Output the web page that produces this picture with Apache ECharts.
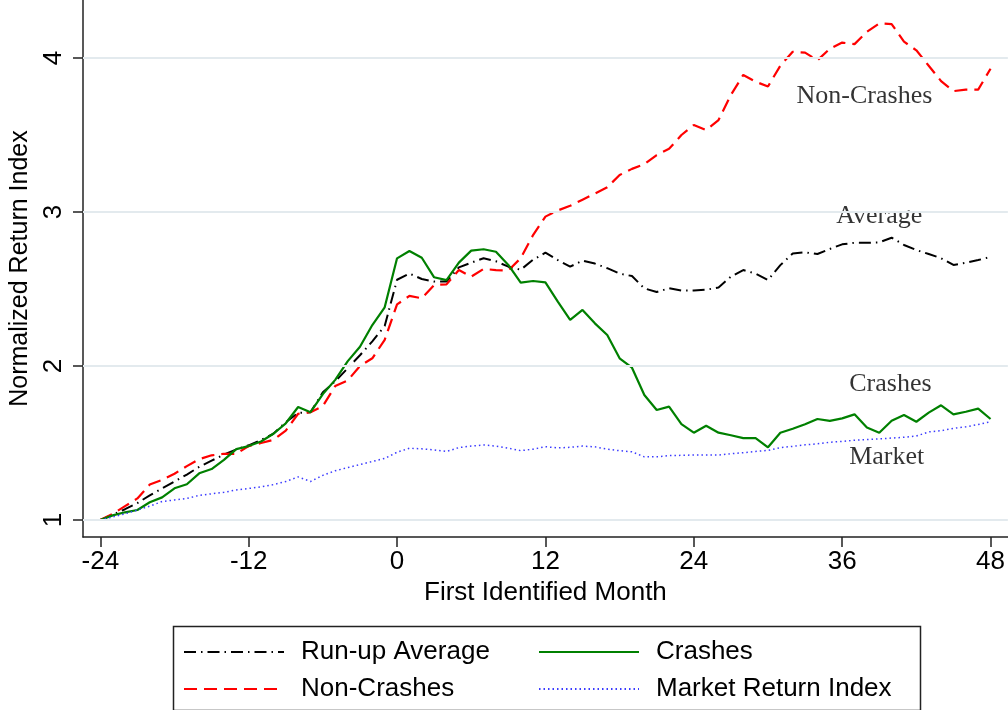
<!DOCTYPE html>
<html>
<head>
<meta charset="utf-8">
<title>Normalized Return Index</title>
<script src="https://cdn.jsdelivr.net/npm/echarts@6/dist/echarts.min.js"></script>
<style>
  html, body { margin: 0; padding: 0; background: #fff; }
  #main { width: 1008px; height: 710px; }
</style>
</head>
<body>
<div id="main"></div>
<script>
// months relative to first identified month
const months = [
  -24, -23, -22, -21, -20, -19, -18, -17, -16, -15, -14, -13, -12,
  -11, -10, -9, -8, -7, -6, -5, -4, -3, -2, -1, 0,
  1, 2, 3, 4, 5, 6, 7, 8, 9, 10, 11, 12,
  13, 14, 15, 16, 17, 18, 19, 20, 21, 22, 23, 24,
  25, 26, 27, 28, 29, 30, 31, 32, 33, 34, 35, 36,
  37, 38, 39, 40, 41, 42, 43, 44, 45, 46, 47, 48
];

const runUpAverage = [
  1.0, 1.035, 1.07, 1.11, 1.16, 1.205, 1.25, 1.295, 1.345, 1.385, 1.425, 1.458, 1.485,
  1.52, 1.56, 1.635, 1.695, 1.70, 1.83, 1.90, 1.985, 2.07, 2.16, 2.26, 2.56,
  2.60, 2.565, 2.548, 2.548, 2.64, 2.671, 2.70, 2.68, 2.645, 2.625, 2.69, 2.736,
  2.688, 2.645, 2.684, 2.665, 2.635, 2.60, 2.584, 2.504, 2.48, 2.505, 2.49, 2.49,
  2.495, 2.51, 2.58, 2.623, 2.60, 2.558, 2.655, 2.73, 2.738, 2.727, 2.76, 2.79,
  2.80, 2.80, 2.803, 2.833, 2.786, 2.753, 2.727, 2.70, 2.656, 2.67, 2.688, 2.708
];

const nonCrashes = [
  1.0, 1.04, 1.09, 1.14, 1.23, 1.26, 1.30, 1.35, 1.395, 1.42, 1.43, 1.43, 1.48,
  1.50, 1.52, 1.58, 1.69, 1.70, 1.74, 1.87, 1.905, 2.00, 2.05, 2.17, 2.40,
  2.455, 2.44, 2.526, 2.53, 2.623, 2.58, 2.63, 2.623, 2.62, 2.70, 2.85, 2.97,
  3.01, 3.04, 3.08, 3.12, 3.16, 3.24, 3.28, 3.31, 3.37, 3.41, 3.50, 3.565,
  3.532, 3.597, 3.76, 3.89, 3.846, 3.815, 3.95, 4.04, 4.035, 3.985, 4.06, 4.10,
  4.09, 4.17, 4.225, 4.22, 4.106, 4.05, 3.95, 3.85, 3.785, 3.795, 3.795, 3.93
];

const crashes = [
  1.0, 1.03, 1.05, 1.065, 1.115, 1.147, 1.206, 1.232, 1.303, 1.331, 1.39, 1.46, 1.48,
  1.51, 1.56, 1.628, 1.734, 1.70, 1.818, 1.91, 2.03, 2.125, 2.266, 2.381, 2.699,
  2.747, 2.703, 2.576, 2.558, 2.671, 2.749, 2.758, 2.742, 2.656, 2.541, 2.552, 2.543,
  2.418, 2.30, 2.364, 2.277, 2.201, 2.05, 1.989, 1.812, 1.714, 1.736, 1.623, 1.567,
  1.612, 1.567, 1.55, 1.532, 1.532, 1.472, 1.567, 1.593, 1.622, 1.656, 1.644, 1.66,
  1.686, 1.60, 1.567, 1.645, 1.682, 1.638, 1.697, 1.745, 1.686, 1.703, 1.723, 1.656
];

const marketIndex = [
  1.0, 1.02, 1.04, 1.065, 1.09, 1.12, 1.13, 1.14, 1.16, 1.17, 1.18, 1.195, 1.205,
  1.215, 1.23, 1.25, 1.28, 1.25, 1.29, 1.32, 1.34, 1.36, 1.38, 1.40, 1.44,
  1.466, 1.462, 1.455, 1.445, 1.47, 1.48, 1.487, 1.48, 1.466, 1.45, 1.46, 1.476,
  1.468, 1.472, 1.48, 1.475, 1.46, 1.45, 1.443, 1.41, 1.41, 1.418, 1.42, 1.422,
  1.422, 1.422, 1.43, 1.437, 1.445, 1.452, 1.47, 1.478, 1.488, 1.495, 1.505, 1.51,
  1.518, 1.522, 1.527, 1.532, 1.537, 1.545, 1.572, 1.58, 1.595, 1.605, 1.62, 1.638
];

const xTicks = [-24, -12, 0, 12, 24, 36, 48];
const yTicks = [1, 2, 3, 4];

// text labels written next to the lines
const annoNames = ['Non-Crashes', 'Average', 'Crashes', 'Market'];
const annoX = [37.8, 39.0, 39.9, 39.6];
const annoY = [3.75, 2.97, 1.88, 1.41];

const sans = 'Liberation Sans, Arial, Helvetica, sans-serif';
const serif = 'Liberation Serif, Times New Roman, serif';

function pairs(ys) {
  return months.map((m, i) => [m, ys[i]]);
}

function lineSeries(name, ys, color, width, type) {
  return {
    name: name,
    type: 'line',
    data: pairs(ys),
    symbol: 'none',
    smooth: false,
    z: 3,
    lineStyle: { color: color, width: width, type: type },
    itemStyle: { color: color }
  };
}

function legendBox(names, left) {
  return {
    data: names,
    orient: 'vertical',
    left: left,
    top: 639,
    padding: 0,
    itemWidth: 100,
    itemHeight: 14,
    itemGap: 11,
    itemStyle: { color: 'rgba(0,0,0,0)', borderWidth: 0 },
    textStyle: { fontFamily: sans, fontSize: 26, lineHeight: 26, color: '#000', padding: [0, 0, 0, 12] }
  };
}

let chart = echarts.init(document.getElementById('main'));

let option = {
  animation: false,
  backgroundColor: '#fff',
  grid: { left: 83, right: 0, top: 0, bottom: 173 },
  xAxis: {
    type: 'value',
    min: -25.4,
    max: 49.4,
    name: 'First Identified Month',
    nameLocation: 'middle',
    nameGap: 43,
    nameTextStyle: { fontFamily: sans, fontSize: 26, color: '#000' },
    axisLine: { show: true, onZero: false, lineStyle: { color: '#222', width: 1.5 } },
    axisTick: { show: true, customValues: xTicks, length: 10, lineStyle: { color: '#222', width: 1.5 } },
    axisLabel: { customValues: xTicks, margin: 12, fontFamily: sans, fontSize: 26, color: '#000' },
    splitLine: { show: false }
  },
  yAxis: {
    type: 'value',
    min: 0.8896,
    max: 4.3766,
    name: 'Normalized Return Index',
    nameLocation: 'middle',
    nameGap: 46,
    nameTextStyle: { fontFamily: sans, fontSize: 25, color: '#000' },
    axisLine: { show: true, onZero: false, lineStyle: { color: '#222', width: 1.5 } },
    axisTick: { show: true, customValues: yTicks, length: 10, lineStyle: { color: '#222', width: 1.5 } },
    axisLabel: { customValues: yTicks, rotate: 90, margin: 16, fontFamily: sans, fontSize: 26, color: '#000' },
    splitLine: { show: false }
  },
  legend: [
    legendBox(['Run-up Average', 'Non-Crashes'], 183),
    legendBox(['Crashes', 'Market Return Index'], 538)
  ],
  graphic: [
    {
      type: 'rect',
      left: 171,
      top: 624,
      shape: { width: 747, height: 84 },
      style: { fill: 'none', stroke: '#222', lineWidth: 1.5 }
    }
  ],
  series: [
    {
      name: 'grid',
      type: 'line',
      data: [],
      z: 1,
      silent: true,
      markLine: {
        silent: true,
        symbol: 'none',
        label: { show: false },
        lineStyle: { color: '#e3eaee', width: 2, type: 'solid' },
        data: yTicks.map(v => ({ yAxis: v }))
      }
    },
    lineSeries('Run-up Average', runUpAverage, '#000', 2, [12, 5, 1.5, 5]),
    lineSeries('Non-Crashes', nonCrashes, '#ff0000', 2.2, [13, 7]),
    lineSeries('Crashes', crashes, '#008000', 2.2, 'solid'),
    lineSeries('Market Return Index', marketIndex, '#3a3aff', 1.5, [1.5, 3]),
    {
      name: 'labels',
      type: 'scatter',
      symbolSize: 1,
      z: 4,
      silent: true,
      itemStyle: { color: 'rgba(0,0,0,0)' },
      label: {
        show: true,
        position: 'inside',
        formatter: p => p.name,
        fontFamily: serif,
        fontSize: 26,
        color: '#000'
      },
      data: annoNames.map((n, i) => ({ name: n, value: [annoX[i], annoY[i]] }))
    }
  ]
};

chart.setOption(option);
</script>
</body>
</html>
